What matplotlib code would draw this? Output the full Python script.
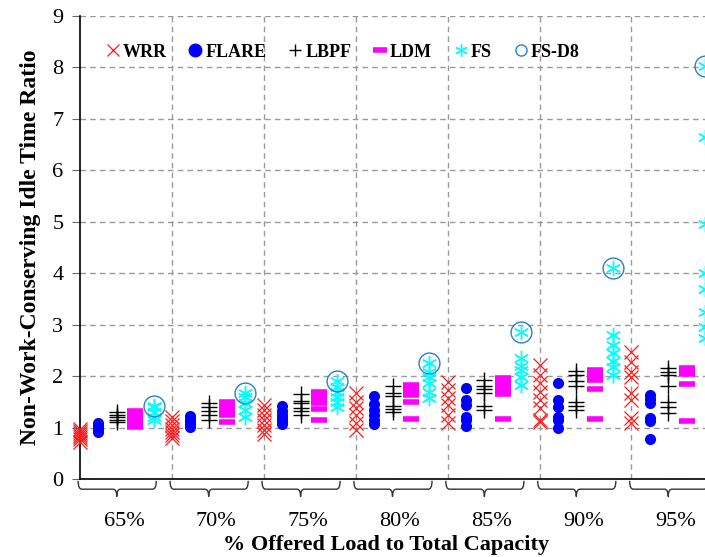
import matplotlib
matplotlib.use('Agg')
import matplotlib.pyplot as plt
import matplotlib.transforms as mtransforms
from matplotlib.lines import Line2D
from matplotlib.path import Path
from matplotlib.patches import PathPatch

# offered load groups
loads = ['65%', '70%', '75%', '80%', '85%', '90%', '95%']

# idle time ratio samples per load group
wrr = [
    [0.72, 0.78, 0.82, 0.86, 0.90, 0.94, 0.98],
    [0.80, 0.86, 0.92, 0.98, 1.04, 1.12, 1.20],
    [0.88, 0.95, 1.05, 1.15, 1.25, 1.35, 1.44],
    [0.95, 1.09, 1.24, 1.38, 1.50, 1.67],
    [1.09, 1.24, 1.44, 1.57, 1.73, 1.88],
    [1.11, 1.14, 1.38, 1.53, 1.69, 1.86, 2.02, 2.21],
    [1.08, 1.18, 1.53, 1.67, 1.98, 2.08, 2.27, 2.47],
]
flare = [
    [0.92, 0.96, 1.00, 1.04, 1.08],
    [1.02, 1.07, 1.12, 1.17, 1.22],
    [1.06, 1.12, 1.18, 1.25, 1.32, 1.42],
    [1.07, 1.15, 1.25, 1.35, 1.45, 1.62],
    [1.03, 1.15, 1.20, 1.44, 1.53, 1.77],
    [0.99, 1.15, 1.20, 1.40, 1.53, 1.86],
    [0.78, 1.12, 1.18, 1.48, 1.55, 1.63],
]
lbpf = [
    [1.10, 1.15, 1.20, 1.25, 1.30],
    [1.15, 1.24, 1.32, 1.40, 1.48],
    [1.25, 1.32, 1.38, 1.48, 1.52, 1.65],
    [1.30, 1.36, 1.42, 1.62, 1.68, 1.80],
    [1.34, 1.42, 1.68, 1.74, 1.80, 1.92],
    [1.35, 1.42, 1.50, 1.80, 1.90, 2.02, 2.10],
    [1.28, 1.40, 1.50, 1.80, 2.02, 2.08, 2.16],
]
ldm = [
    [1.02, 1.08, 1.14, 1.20, 1.26, 1.32],
    [1.10, 1.24, 1.30, 1.36, 1.42, 1.50],
    [1.15, 1.37, 1.48, 1.55, 1.62, 1.69],
    [1.16, 1.50, 1.63, 1.70, 1.77, 1.83],
    [1.16, 1.65, 1.72, 1.80, 1.88, 1.96],
    [1.16, 1.75, 1.92, 1.98, 2.05, 2.12],
    [1.13, 1.85, 2.04, 2.08, 2.12, 2.15],
]
fs = [
    [1.15, 1.20, 1.30, 1.40, 1.42],
    [1.20, 1.34, 1.48, 1.60, 1.67],
    [1.40, 1.50, 1.60, 1.69, 1.79, 1.90],
    [1.57, 1.69, 1.86, 1.98, 2.08, 2.25],
    [1.83, 1.98, 2.12, 2.20, 2.35, 2.85],
    [2.02, 2.17, 2.30, 2.45, 2.60, 2.80, 4.10],
    [2.75, 2.95, 3.25, 3.70, 4.00, 4.95, 6.65, 8.02],
]
fs_d8 = [1.42, 1.67, 1.90, 2.25, 2.85, 4.10, 8.02]

plt.rcParams['font.family'] = 'Liberation Serif'

fig = plt.figure(figsize=(7.05, 5.57), dpi=100)
ax = fig.add_axes([80 / 705, 78 / 557, 625 / 705, 463 / 557])

series = [
    (wrr, 0, dict(marker='x', color='#ff1a1a', markersize=10, markeredgewidth=0.9)),
    (flare, 1, dict(marker='o', color='#0000ff', markersize=8, markeredgewidth=0)),
    (lbpf, 2, dict(marker='+', color='black', markersize=11, markeredgewidth=1.0)),
    (ldm, 3, dict(marker='_', color='#ff00ff', markersize=11, markeredgewidth=4)),
    (fs, 4, dict(marker=(6, 2, 0), color='#00ffff', markersize=11, markeredgewidth=1.0)),
]
for data, k, style in series:
    for g, vals in enumerate(data):
        ax.plot([5 * g + k] * len(vals), vals, linestyle='none', zorder=3,
                clip_on=False, **style)

ax.plot([5 * g + 4 for g in range(len(fs_d8))], fs_d8, linestyle='none', marker='o',
        markersize=15, markerfacecolor='none', markeredgecolor='#2a7fcc',
        markeredgewidth=1.0, zorder=4, clip_on=False)

ax.set_xlim(0, 34)
ax.set_ylim(0, 9)
ax.set_yticks(range(10))
ax.set_xticks([5, 10, 15, 20, 25, 30])
ax.grid(True, color='#999999', linestyle=(0, (4, 3)), linewidth=1.0)
ax.set_axisbelow(True)
ax.tick_params(axis='x', length=0, labelbottom=False)
ax.tick_params(axis='y', direction='out', length=6, color='#666666', labelsize=16, pad=6)
for side in ['top', 'right']:
    ax.spines[side].set_visible(False)
ax.spines['left'].set_linewidth(1.2)
ax.spines['bottom'].set_linewidth(1.2)

# curly braces under each load group
trans = mtransforms.blended_transform_factory(ax.transData, ax.transAxes)
y_top, y_mid, y_tip = -0.004, -0.022, -0.038
r = 0.2
for g, lab in enumerate(loads):
    x0, x1, xt = 5 * g - 0.1, 5 * g + 4.15, 5 * g + 2.0
    verts = [(x0, y_top), (x0, y_mid), (x0 + r, y_mid),
             (xt - r, y_mid), (xt, y_mid), (xt, y_tip),
             (xt, y_mid), (xt + r, y_mid),
             (x1 - r, y_mid), (x1, y_mid), (x1, y_top)]
    codes = [Path.MOVETO, Path.CURVE3, Path.CURVE3, Path.LINETO, Path.CURVE3, Path.CURVE3,
             Path.CURVE3, Path.CURVE3, Path.LINETO, Path.CURVE3, Path.CURVE3]
    ax.add_patch(PathPatch(Path(verts, codes), transform=trans, fill=False,
                           edgecolor='#333333', linewidth=1.0, clip_on=False))
    ax.text(5 * g + 2.4, -0.092, lab, transform=trans, ha='center', va='center', fontsize=16)

ax.text(0.49, -0.142, '% Offered Load to Total Capacity', transform=ax.transAxes,
        ha='center', va='center', fontsize=16, fontweight='bold')
ax.set_ylabel('Non-Work-Conserving Idle Time Ratio', fontsize=17, fontweight='bold', labelpad=8)

handles = [
    Line2D([], [], linestyle='none', marker='x', color='#ff1a1a', markersize=9, markeredgewidth=0.9),
    Line2D([], [], linestyle='none', marker='o', color='#0000ff', markersize=9),
    Line2D([], [], linestyle='none', marker='+', color='black', markersize=9),
    Line2D([], [], linestyle='none', marker='_', color='#ff00ff', markersize=10, markeredgewidth=4),
    Line2D([], [], linestyle='none', marker=(6, 2, 0), color='#00ffff', markersize=9),
    Line2D([], [], linestyle='none', marker='o', markerfacecolor='none',
           markeredgecolor='#2a7fcc', markersize=8),
]
names = ['WRR', 'FLARE', 'LBPF', 'LDM', 'FS', 'FS-D8']
ax.legend(handles, names, loc='center', bbox_to_anchor=(0.42, 0.922), ncol=6, frameon=False,
          prop={'weight': 'bold', 'size': 13}, handlelength=0.8, handletextpad=0.15,
          columnspacing=1.2)

fig.savefig('out.png', dpi=100)
